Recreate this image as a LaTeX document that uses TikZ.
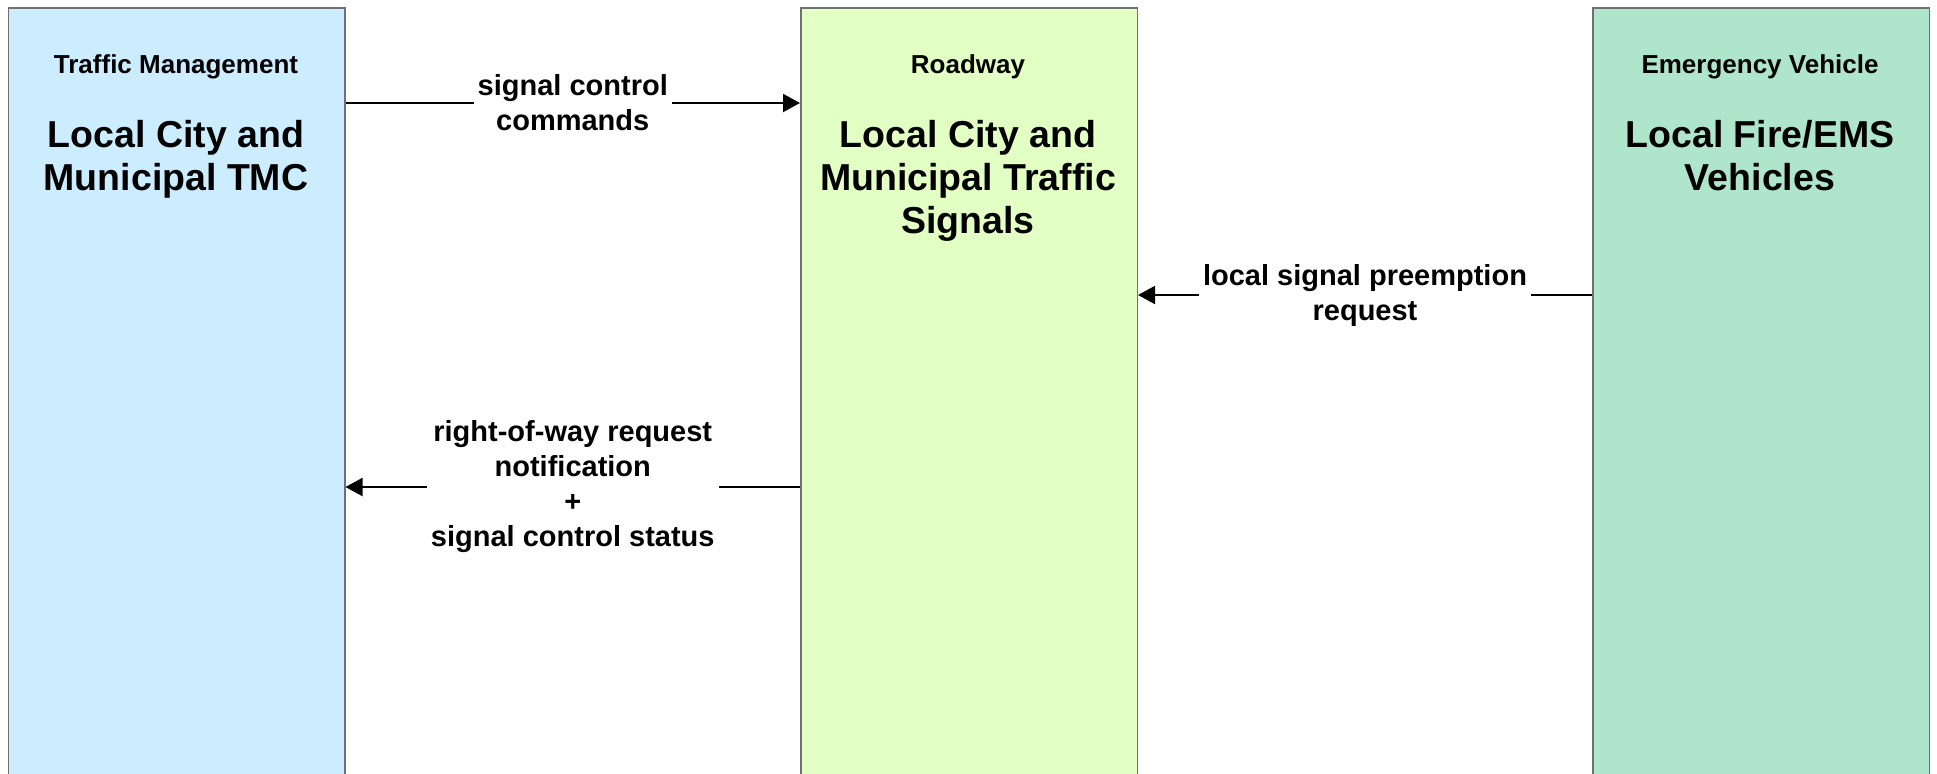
\documentclass[tikz,border=0pt]{standalone}
\usepackage{fontspec}
\setmainfont{Liberation Sans}
\usetikzlibrary{arrows.meta}
\definecolor{tmcfill}{HTML}{CCECFF}
\definecolor{roadfill}{HTML}{E2FFC4}
\definecolor{evfill}{HTML}{AFE5CB}
\definecolor{boxline}{HTML}{707070}
\begin{document}
\begin{tikzpicture}[x=0.5pt,y=-0.5pt,
  box/.style={draw=boxline, line width=0.75pt, anchor=north west, minimum width=168.25pt, minimum height=400pt, inner sep=0pt},
  cat/.style={font=\fontsize{13}{15}\selectfont\bfseries, anchor=base, inner sep=0pt},
  sysname/.style={font=\fontsize{18.75}{21.5}\selectfont\bfseries, align=center, anchor=base, inner sep=0pt},
  flow/.style={line width=1pt, -{Triangle[length=8.5pt, width=9pt]}},
  lbl/.style={font=\fontsize{14.5}{17.5}\selectfont\bfseries, align=center, fill=white, inner sep=2pt}]
\useasboundingbox (0,0) rectangle (1937,773);
\clip (0,0) rectangle (1937,773);
\node[box, fill=tmcfill] (tmc) at (7.5,7) {};
\node[box, fill=roadfill] (road) at (800,7) {};
\node[box, fill=evfill] (ev) at (1592,7) {};
\node[cat] (tmccat) at (176,73) {Traffic Management};
\node[sysname] (tmcname) at (176,190) {Local City and\\Municipal TMC};
\node[cat] (roadcat) at (968,73) {Roadway};
\node[sysname] (roadname) at (968,233) {Local City and\\Municipal Traffic\\Signals};
\node[cat] (evcat) at (1760,73) {Emergency Vehicle};
\node[sysname] (evname) at (1760,190) {Local Fire/EMS\\Vehicles};
\coordinate (y1) at (0,103);
\coordinate (y2) at (0,295);
\coordinate (y3) at (0,487);
\draw[flow] (tmc.east |- y1) -- (road.west |- y1) node[lbl, midway] {signal control\\commands};
\draw[flow] (ev.west |- y2) -- (road.east |- y2) node[lbl, midway] {local signal preemption\\request};
\draw[flow] (road.west |- y3) -- (tmc.east |- y3) node[lbl, midway] {right-of-way request\\notification\\+\\signal control status};
\end{tikzpicture}
\end{document}
